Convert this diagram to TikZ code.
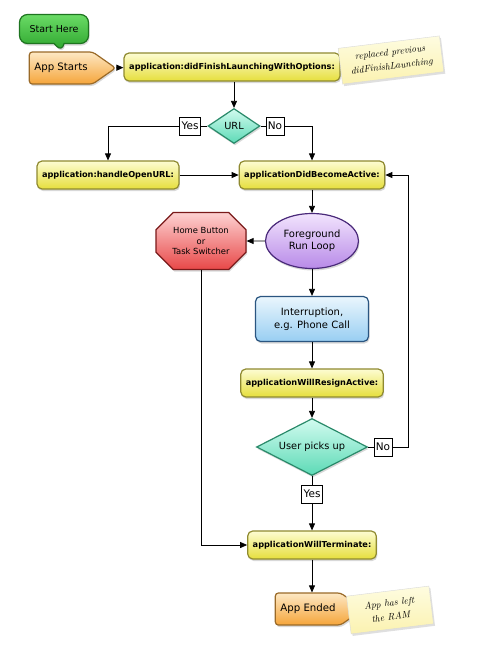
\documentclass[tikz,border=0pt]{standalone}
\usepackage{fontspec}
\setmainfont{DejaVu Sans}
\newfontfamily\notefont{Latin Modern Roman}
\usetikzlibrary{arrows.meta,shapes.geometric,shapes.misc,shapes.symbols,shapes.callouts,shadows}

\definecolor{yellowtop}{HTML}{FDFCD2}
\definecolor{yellowbot}{HTML}{E6DF3C}
\definecolor{yellowline}{HTML}{8F8A30}
\definecolor{orangetop}{HTML}{FDE8C4}
\definecolor{orangebot}{HTML}{F5A53A}
\definecolor{orangeline}{HTML}{9A6A28}
\definecolor{greentop}{HTML}{6ADB66}
\definecolor{greenbot}{HTML}{2AA22A}
\definecolor{greenline}{HTML}{1E7420}
\definecolor{tealtop}{HTML}{D2FBEF}
\definecolor{tealbot}{HTML}{5CDAB6}
\definecolor{tealline}{HTML}{2A8A6A}
\definecolor{purpletop}{HTML}{F2E4FD}
\definecolor{purplebot}{HTML}{B88AE8}
\definecolor{purpleline}{HTML}{4A2A7A}
\definecolor{redtop}{HTML}{FDD2D2}
\definecolor{redbot}{HTML}{E84848}
\definecolor{redline}{HTML}{7A1A1A}
\definecolor{bluetop}{HTML}{EAF6FD}
\definecolor{bluebot}{HTML}{98CEF2}
\definecolor{blueline}{HTML}{2A5580}
\definecolor{notetop}{HTML}{FEFCE0}
\definecolor{notebot}{HTML}{FBF2B0}

\begin{document}
\begin{tikzpicture}[
    x=1pt, y=-1pt,
    shaded/.style={line width=1.2pt, drop shadow={opacity=0.3, shadow xshift=1pt, shadow yshift=-2pt}},
    method box/.style={shaded, rectangle, rounded corners=5pt, draw=yellowline, top color=yellowtop, bottom color=yellowbot,
        font=\bfseries\fontsize{8.2}{9.5}\selectfont, minimum height=28pt, inner xsep=5pt},
    terminal/.style={shaded, signal, signal to=east, signal pointer angle=70, rounded corners=3pt, draw=orangeline,
        top color=orangetop, bottom color=orangebot, font=\fontsize{10.2}{12}\selectfont, minimum height=32pt, inner xsep=5pt},
    decision/.style={shaded, diamond, draw=tealline, top color=tealtop, bottom color=tealbot, inner sep=0pt,
        font=\fontsize{9.8}{12}\selectfont},
    answer/.style={draw=black, fill=white, line width=0.6pt, inner sep=2pt, minimum height=18pt,
        font=\fontsize{10.5}{12}\selectfont},
    sticky note/.style={rectangle, draw=black!15, line width=0.4pt, top color=notetop, bottom color=notebot,
        drop shadow={opacity=0.25, shadow xshift=1.5pt, shadow yshift=-2pt}, align=center,
        font=\notefont\itshape\fontsize{9.6}{14}\selectfont, inner sep=2pt},
    flow/.style={draw=black, line width=0.8pt, -{Triangle[length=7pt, width=6pt]}},
    plain/.style={draw=black, line width=0.8pt}
]
\fill[white] (0,0) rectangle (496,649);
\useasboundingbox (0,0) rectangle (496,649);

% Start
\node[shaded, rectangle callout, callout absolute pointer={(62,52)}, callout pointer width=10pt, rounded corners=8pt,
    draw=greenline, top color=greentop, bottom color=greenbot, minimum width=69pt, minimum height=29pt,
    font=\fontsize{9.5}{11}\selectfont] (here) at (54,29) {Start Here};
\node[terminal, minimum width=85pt] (start) at (61,68) {App Starts};
\node[method box, minimum width=216pt] (launch) at (232,67) {application:didFinishLaunchingWithOptions:};
\node[sticky note, rotate=7, minimum width=102pt, minimum height=36pt] (launchnote) at (391,60)
    {replaced previous\\didFinishLaunching};

% URL decision
\node[decision, aspect=1.5, minimum width=52pt, minimum height=35pt] (url) at (234,126) {URL};
\node[answer] (urlyes) at (190,126) {Yes};
\node[answer] (urlno) at (275,126) {No};
\node[method box] (openurl) at (108,175) {application:handleOpenURL:};
\node[method box] (active) at (312,175) {applicationDidBecomeActive:};

% Run loop
\node[shaded, ellipse, draw=purpleline, top color=purpletop, bottom color=purplebot, minimum width=93pt,
    minimum height=55pt, inner sep=0pt, align=center, font=\fontsize{10}{12}\selectfont] (runloop) at (312,241)
    {Foreground\\Run Loop};
\node[shaded, chamfered rectangle, chamfered rectangle xsep=15pt, draw=redline, top color=redtop, bottom color=redbot,
    minimum width=90pt, minimum height=57pt, inner sep=0pt, align=center, font=\fontsize{8.4}{10.5}\selectfont]
    (home) at (201,241) {Home Button\\or\\Task Switcher};
\node[shaded, rectangle, rounded corners=5pt, draw=blueline, top color=bluetop, bottom color=bluebot, minimum width=113pt,
    minimum height=45pt, align=center, font=\fontsize{10}{13}\selectfont] (phone) at (312,319)
    {Interruption,\\e.g. Phone Call};
\node[method box] (resign) at (312,383) {applicationWillResignActive:};

% Pick up decision
\node[decision, aspect=2.4, minimum width=111pt, minimum height=57pt] (pickup) at (312,447) {User picks up};
\node[answer] (pickno) at (383,447) {No};
\node[answer] (pickyes) at (312,494) {Yes};
\coordinate (loopback) at (408,175);

% End
\node[method box] (terminate) at (312,545) {applicationWillTerminate:};
\node[terminal, minimum width=78pt] (ended) at (308,609) {App Ended};
\node[sticky note, rotate=7, minimum width=83pt, minimum height=38pt] (endnote) at (390,610)
    {App has left\\the RAM};

% Connectors
\draw[flow] (start) -- (launch);
\draw[flow] (url.north |- launch.south) -- (url);
\draw[plain] (url) -- (urlyes);
\draw[flow] (urlyes) -| (openurl);
\draw[plain] (url) -- (urlno);
\draw[flow] (urlno) -| (active);
\draw[flow] (openurl) -- (active);
\draw[flow] (active) -- (runloop);
\draw[flow] (runloop) -- (home);
\draw[flow] (runloop) -- (phone);
\draw[flow] (phone) -- (resign);
\draw[flow] (resign) -- (pickup);
\draw[plain] (pickup) -- (pickno);
\draw[flow] (pickno) -| (loopback) -- (active);
\draw[plain] (pickup) -- (pickyes);
\draw[flow] (pickyes) -- (terminate);
\draw[flow] (home) |- (terminate);
\draw[flow] (terminate.south) -- (terminate.south |- ended.north);
\end{tikzpicture}
\end{document}
